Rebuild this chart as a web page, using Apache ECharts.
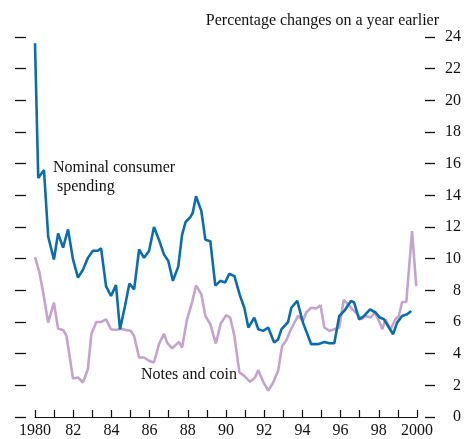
<!DOCTYPE html>
<html>
<head>
<meta charset="utf-8">
<script src="https://cdn.jsdelivr.net/npm/echarts@6/dist/echarts.min.js"></script>
<style>
html,body{margin:0;padding:0;background:#fff;}
#chart{width:464px;height:439px;}
</style>
</head>
<body>
<div id="chart"></div>
<script>
// Nominal consumer spending (% change on a year earlier)
const spendingYears = [1980.00,1980.17,1980.47,1980.69,1980.99,1981.21,1981.47,1981.73,1981.99,1982.25,1982.51,1982.77,1983.03,1983.29,1983.46,1983.72,1983.98,1984.24,1984.45,1984.71,1984.94,1985.19,1985.45,1985.71,1985.97,1986.23,1986.49,1986.75,1986.98,1987.22,1987.50,1987.70,1987.88,1988.14,1988.26,1988.43,1988.71,1988.92,1989.18,1989.44,1989.70,1989.96,1990.17,1990.44,1990.74,1990.96,1991.17,1991.48,1991.69,1991.95,1992.21,1992.52,1992.73,1992.90,1993.25,1993.42,1993.73,1994.03,1994.46,1994.81,1995.15,1995.41,1995.67,1995.93,1996.19,1996.54,1996.71,1996.97,1997.23,1997.54,1997.83,1998.06,1998.27,1998.53,1998.75,1998.96,1999.22,1999.48,1999.70];
const spendingValues = [23.6,15.1,15.6,11.4,9.95,11.6,10.7,11.85,9.95,8.8,9.3,10.05,10.5,10.5,10.65,8.27,7.64,8.33,5.54,7.0,8.42,8.06,10.58,10.06,10.48,12.0,11.2,10.27,9.85,8.6,9.5,11.5,12.3,12.64,12.9,13.94,13.0,11.2,11.1,8.3,8.6,8.5,9.05,8.9,7.64,6.9,5.65,6.28,5.54,5.44,5.65,4.7,4.9,5.54,6.0,6.9,7.33,5.96,4.6,4.6,4.74,4.66,4.66,6.38,6.7,7.33,7.23,6.17,6.38,6.8,6.6,6.28,6.17,5.65,5.23,5.96,6.38,6.49,6.7];

// Notes and coin (% change on a year earlier)
const notesYears = [1980.00,1980.22,1980.43,1980.69,1980.99,1981.21,1981.47,1981.65,1981.99,1982.25,1982.51,1982.77,1982.95,1983.21,1983.46,1983.72,1983.98,1984.24,1984.50,1984.76,1985.02,1985.19,1985.45,1985.71,1985.97,1986.23,1986.49,1986.75,1986.92,1987.18,1987.53,1987.70,1987.96,1988.22,1988.43,1988.71,1988.92,1989.18,1989.47,1989.73,1990.01,1990.22,1990.44,1990.70,1990.96,1991.26,1991.52,1991.69,1991.95,1992.21,1992.47,1992.73,1992.94,1993.16,1993.42,1993.77,1994.03,1994.20,1994.46,1994.72,1994.95,1995.15,1995.41,1995.67,1995.93,1996.16,1996.40,1996.62,1996.88,1997.09,1997.31,1997.57,1997.78,1998.01,1998.18,1998.35,1998.61,1998.87,1999.05,1999.22,1999.44,1999.74,1999.96];
const notesValues = [10.1,9.2,7.85,5.96,7.22,5.58,5.5,5.12,2.43,2.5,2.18,3.02,5.23,6.0,6.0,6.17,5.54,5.5,5.58,5.5,5.44,5.12,3.76,3.76,3.55,3.44,4.6,5.26,4.7,4.33,4.74,4.39,6.17,7.22,8.31,7.75,6.38,5.86,4.64,5.92,6.43,6.28,5.12,2.82,2.6,2.22,2.5,2.96,2.22,1.66,2.18,2.92,4.49,4.85,5.6,6.38,6.07,6.6,6.9,6.85,7.06,5.65,5.44,5.54,5.65,7.39,7.12,6.8,6.49,6.17,6.38,6.28,6.6,6.07,5.54,6.17,5.54,6.17,6.38,7.26,7.26,11.74,8.27];

const yTicks = {min: 0, max: 24, interval: 2};
const xRange = {min: 1980, max: 2000, interval: 1};
const unitsLabel = 'Percentage changes on a year earlier';
const spendingLabel = 'Nominal consumer\n spending';
const notesLabel = 'Notes and coin';

const FONT = '"Liberation Serif", "DejaVu Serif", serif';
const FS = 16;
const zip = (xs, ys) => xs.map((x, i) => [x, ys[i]]);

const chart = echarts.init(document.getElementById('chart'), null, {renderer: 'canvas'});
chart.setOption({
  animation: false,
  backgroundColor: '#ffffff',
  grid: {left: 35, right: 44, top: 37, bottom: 21, containLabel: false},
  xAxis: {
    type: 'value', min: xRange.min, max: xRange.max, interval: xRange.interval,
    axisLine: {show: true, lineStyle: {color: '#111', width: 1.2}},
    axisTick: {show: true, inside: true, length: 7, lineStyle: {color: '#111', width: 1.2}},
    splitLine: {show: false},
    axisLabel: {
      margin: 6, color: '#111', fontFamily: FONT, fontSize: FS,
      formatter: v => {
        if (v % 2 !== 0) return '';
        if (v === 1980 || v === 2000) return String(v);
        return String(v).slice(2);
      }
    }
  },
  yAxis: [
    {
      type: 'value', position: 'right', offset: 8,
      min: yTicks.min, max: yTicks.max, interval: yTicks.interval,
      axisLine: {show: false},
      axisTick: {show: true, inside: false, length: 10, lineStyle: {color: '#111', width: 1.3}},
      splitLine: {show: false},
      axisLabel: {margin: 36, align: 'right', color: '#111', fontFamily: FONT, fontSize: FS}
    },
    {
      type: 'value', position: 'left', offset: 9,
      min: yTicks.min, max: yTicks.max, interval: yTicks.interval,
      axisLine: {show: false},
      axisTick: {show: true, inside: false, length: 11, lineStyle: {color: '#111', width: 1.3}},
      splitLine: {show: false},
      axisLabel: {show: false}
    }
  ],
  series: [
    {
      name: notesLabel, type: 'line', yAxisIndex: 0,
      data: zip(notesYears, notesValues),
      showSymbol: false, symbol: 'none',
      lineStyle: {color: '#c4a3cd', width: 2.6}, z: 2
    },
    {
      name: 'Nominal consumer spending', type: 'line', yAxisIndex: 0,
      data: zip(spendingYears, spendingValues),
      showSymbol: false, symbol: 'none',
      lineStyle: {color: '#0b6dac', width: 2.6}, z: 3
    }
  ],
  graphic: [
    {type: 'text', right: 25, top: 13, style: {text: unitsLabel, fill: '#111', font: FS + 'px ' + FONT}},
    {type: 'text', left: 53, top: 158, style: {text: spendingLabel, fill: '#111', font: FS + 'px ' + FONT, lineHeight: 19}},
    {type: 'text', left: 141, top: 367, style: {text: notesLabel, fill: '#111', font: FS + 'px ' + FONT}}
  ]
});
</script>
</body>
</html>
